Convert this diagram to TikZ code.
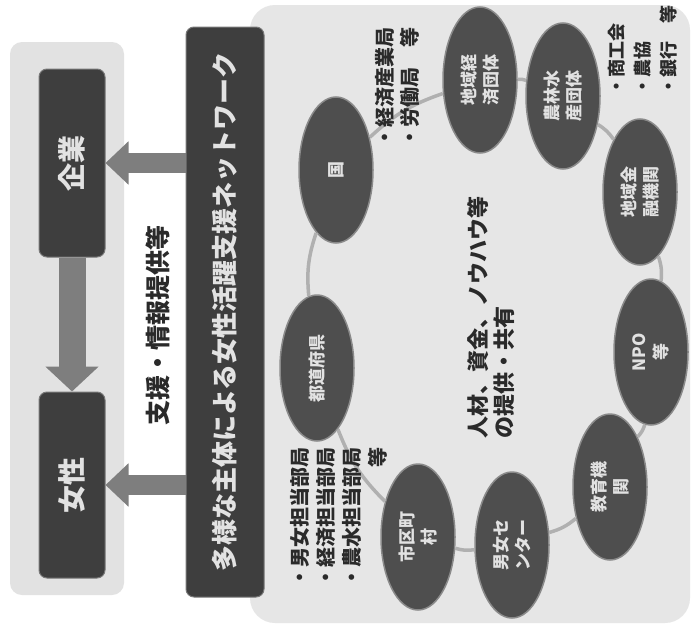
\documentclass[tikz,border=0pt]{standalone}
\usepackage{fontspec}
\usepackage{graphicx}
\setmainfont{Noto Sans CJK JP}
\usetikzlibrary{arrows.meta,shapes.geometric}
\definecolor{panelL}{HTML}{E2E2E2}
\definecolor{panelR}{HTML}{E6E6E6}
\definecolor{darkbox}{HTML}{3E3E3E}
\definecolor{ellfill}{HTML}{4E4E4E}
\definecolor{ellrim}{HTML}{8A8A8A}
\definecolor{arrowgray}{HTML}{7E7E7E}
\definecolor{ringgray}{HTML}{B0B0B0}
\definecolor{inktext}{HTML}{2A2A2A}
\definecolor{lighttext}{HTML}{E2E2E2}
\begin{document}
\begin{tikzpicture}[x=1pt,y=1pt,
  darkrect/.style={rectangle, rounded corners=8pt, fill=darkbox, draw=darkbox!70!white, line width=1pt, text=lighttext, inner sep=0pt},
  bigarrow/.style={draw=arrowgray, line width=20pt, -{Triangle[width=42pt,length=23pt]}},
  ell/.style={ellipse, rotate=90, minimum width=146pt, minimum height=74pt, inner sep=0pt, fill=ellfill, draw=ellrim, line width=1.5pt, text=lighttext, align=center, font=\fontsize{17}{22}\selectfont\bfseries},
  ring/.style={draw=ringgray, line width=3.5pt},
  side/.style={rotate=90, align=left, text=inktext, inner sep=0pt},
]
\useasboundingbox (0,0) rectangle (693,-629);
\fill[white] (0,0) rectangle (693,-629);
% panels
\fill[panelR, rounded corners=25pt] (250,-5) rectangle (690,-623);
\fill[panelL, rounded corners=12pt] (10,-42) rectangle (124,-595);
% left boxes
\node[darkrect, minimum width=66pt, minimum height=188pt, font=\fontsize{28}{30}\selectfont\bfseries] (kigyo) at (72,-163) {\rotatebox{90}{企業}};
\node[darkrect, minimum width=66pt, minimum height=186pt, font=\fontsize{28}{30}\selectfont\bfseries] (josei) at (72,-485) {\rotatebox{90}{女性}};
% title bar
\node[darkrect, minimum width=78pt, minimum height=570pt, font=\fontsize{26}{30}\selectfont\bfseries] (bar) at (225,-312) {\rotatebox{90}{多様な主体による女性活躍支援ネットワーク}};
% arrows
\draw[bigarrow] (bar.west |- kigyo.east) -- (kigyo.east);
\draw[bigarrow] (bar.west |- josei.east) -- (josei.east);
\draw[bigarrow, line width=27pt, -{Triangle[width=52pt,length=25pt]}] (kigyo.south) -- (josei.north);
\node[side, font=\fontsize{25}{30}\selectfont\bfseries] (shien) at (158,-325) {支援・情報提供等};
% ellipses
\node[ell] (kuni) at (336,-170) {国};
\node[ell] (keizai) at (480,-80) {地域経\\済団体};
\node[ell] (norin) at (563,-96) {農林水\\産団体};
\node[ell] (kinyu) at (640,-192) {地域金\\融機関};
\node[ell] (npo) at (651,-352) {NPO\\等};
\node[ell] (kyoiku) at (610,-487) {教育機\\関};
\node[ell] (danjo) at (512,-545) {男女セ\\ンター};
\node[ell] (shiku) at (418,-537) {市区町\\村};
\node[ell] (todo) at (317,-368) {都道府県};
% ring connectors
\draw[ring] (kuni) to[bend left=12] (keizai);
\draw[ring] (keizai) to[bend left=12] (norin);
\draw[ring] (norin) to[bend left=12] (kinyu);
\draw[ring] (kinyu) to[bend left=12] (npo);
\draw[ring] (npo) to[bend left=12] (kyoiku);
\draw[ring] (kyoiku) to[bend left=12] (danjo);
\draw[ring] (danjo) to[bend left=12] (shiku);
\draw[ring] (shiku) to[bend left=12] (todo);
\draw[ring] (todo) to[bend left=12] (kuni);
% side texts
\node[side, font=\fontsize{20}{25}\selectfont\bfseries] (kuninote) at (397,-87) {・経済産業局\\・労働局\hspace{1em}等};
\node[side, font=\fontsize{20}{26}\selectfont\bfseries] (todonote) at (339,-517) {・男女担当部局\\・経済担当部局\\・農水担当部局\\\phantom{・男女担当部}等};
\node[side, font=\fontsize{18}{26}\selectfont\bfseries] (kinyunote) at (643,-50) {・商工会\\・農協\\・銀行\hspace{1em}等};
\node[side, font=\fontsize{22}{26}\selectfont\bfseries] (center) at (491,-317) {人材、資金、ノウハウ等\\の提供・共有};
\end{tikzpicture}
\end{document}
